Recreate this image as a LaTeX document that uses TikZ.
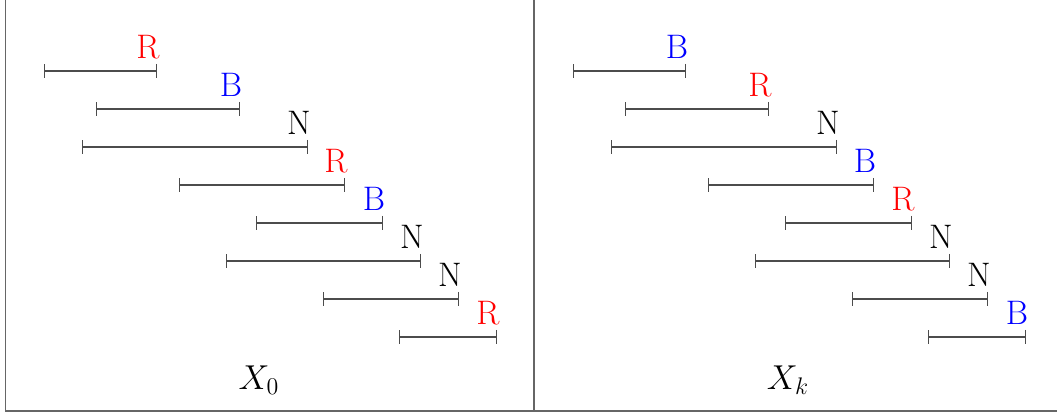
\documentclass[tikz,border=0pt]{standalone}
\usetikzlibrary{arrows.meta}
\usetikzlibrary{positioning}
\tikzstyle{seg}   = [draw=black!70, line width=0.7pt, arrows={Bar[width=7pt]-Bar[width=7pt]}]
\tikzstyle{lab}   = [anchor=base, inner sep=0pt, xshift=-4.5pt, yshift=6pt]
\tikzstyle{frame} = [draw=black!60, line width=0.65pt]
\begin{document}
\begin{tikzpicture}[x=0.5pt, y=0.5pt, font=\fontsize{17}{20}\selectfont]
     \useasboundingbox (0,0) rectangle (1057,417);
     \draw[frame] (5.5,417) -- (5.5,6) -- (1057,6);
     \draw[frame] (534,417) -- (534,6);
% left box
     \draw[seg] (44,346)  -- (157,346) node[lab, red]  (l1) {R};
     \draw[seg] (96,308)  -- (240,308) node[lab, blue] (l2) {B};
     \draw[seg] (82,270)  -- (308,270) node[lab]       (l3) {N};
     \draw[seg] (179,232) -- (345,232) node[lab, red]  (l4) {R};
     \draw[seg] (256,194) -- (383,194) node[lab, blue] (l5) {B};
     \draw[seg] (226,156) -- (421,156) node[lab]       (l6) {N};
     \draw[seg] (323,118) -- (459,118) node[lab]       (l7) {N};
     \draw[seg] (399,80)  -- (497,80)  node[lab, red]  (l8) {R};
     \node (x0) at (259,37) {$X_0$};
% right box
     \draw[seg] (573,346) -- (686,346) node[lab, blue] (r1) {B};
     \draw[seg] (625,308) -- (769,308) node[lab, red]  (r2) {R};
     \draw[seg] (611,270) -- (837,270) node[lab]       (r3) {N};
     \draw[seg] (708,232) -- (874,232) node[lab, blue] (r4) {B};
     \draw[seg] (785,194) -- (912,194) node[lab, red]  (r5) {R};
     \draw[seg] (755,156) -- (950,156) node[lab]       (r6) {N};
     \draw[seg] (852,118) -- (988,118) node[lab]       (r7) {N};
     \draw[seg] (928,80)  -- (1026,80) node[lab, blue] (r8) {B};
     \node (xk) at (788,37) {$X_k$};
\end{tikzpicture}
\end{document}
